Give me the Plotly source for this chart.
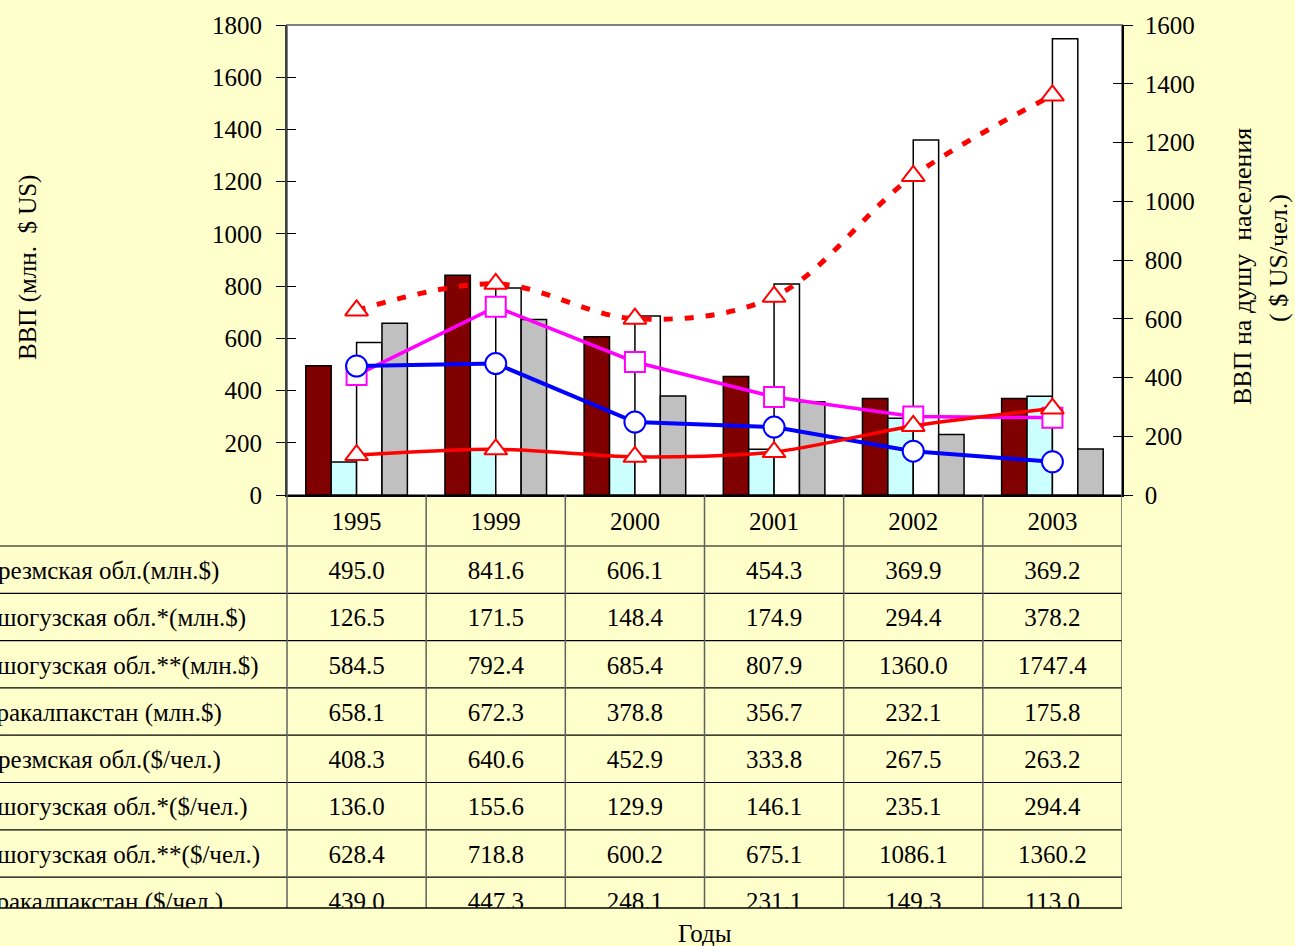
import plotly.graph_objects as go

# ---------------- data ----------------
years = ['1995', '1999', '2000', '2001', '2002', '2003']

khorezm_mln = [495.0, 841.6, 606.1, 454.3, 369.9, 369.2]
dash1_mln = [126.5, 171.5, 148.4, 174.9, 294.4, 378.2]
dash2_mln = [584.5, 792.4, 685.4, 807.9, 1360.0, 1747.4]
karakalp_mln = [658.1, 672.3, 378.8, 356.7, 232.1, 175.8]

khorezm_pc = [408.3, 640.6, 452.9, 333.8, 267.5, 263.2]
dash1_pc = [136.0, 155.6, 129.9, 146.1, 235.1, 294.4]
dash2_pc = [628.4, 718.8, 600.2, 675.1, 1086.1, 1360.2]
karakalp_pc = [439.0, 447.3, 248.1, 231.1, 149.3, 113.0]

row_labels = [
    'Хорезмская обл.(млн.$)',
    'Дашогузская обл.*(млн.$)',
    'Дашогузская обл.**(млн.$)',
    'Каракалпакстан (млн.$)',
    'Хорезмская обл.($/чел.)',
    'Дашогузская обл.*($/чел.)',
    'Дашогузская обл.**($/чел.)',
    'Каракалпакстан ($/чел.)',
]
table_rows = [khorezm_mln, dash1_mln, dash2_mln, karakalp_mln,
              khorezm_pc, dash1_pc, dash2_pc, karakalp_pc]

# ---------------- layout geometry (pixels) ----------------
W, H = 1295, 946
PL, PR, PT, PB = 287, 1122, 25, 495
TB = 908
HDR = 546
ROWH = (877.1 - 546) / 7
LABEL_X = -31
TEXT_DY = 3

FONT = 'Liberation Serif'
BG = '#FFFFCC'
FS = 25

ncol = len(years)
colw = (PR - PL) / ncol
col_centers = [PL + colw * (i + 0.5) for i in range(ncol)]
row_centers = [HDR + ROWH * (j + 0.5) + TEXT_DY for j in range(len(row_labels))]

fig = go.Figure()

bar_line = dict(color='black', width=1.5)
fig.add_trace(go.Bar(x=years, y=khorezm_mln, marker=dict(color='#800000', line=bar_line),
                     name=row_labels[0]))
fig.add_trace(go.Bar(x=years, y=dash1_mln, marker=dict(color='#CCFFFF', line=bar_line),
                     name=row_labels[1]))
fig.add_trace(go.Bar(x=years, y=dash2_mln, marker=dict(color='#FFFFFF', line=bar_line),
                     name=row_labels[2]))
fig.add_trace(go.Bar(x=years, y=karakalp_mln, marker=dict(color='#C0C0C0', line=bar_line),
                     name=row_labels[3]))

fig.add_trace(go.Scatter(x=years, y=khorezm_pc, yaxis='y2', mode='lines+markers',
                         line=dict(color='#FF00FF', width=3.5),
                         marker=dict(symbol='square', size=20, color='white',
                                     line=dict(color='#FF00FF', width=2)),
                         name=row_labels[4]))
fig.add_trace(go.Scatter(x=years, y=karakalp_pc, yaxis='y2', mode='lines+markers',
                         line=dict(color='#0000FF', width=4),
                         marker=dict(symbol='circle', size=21, color='white',
                                     line=dict(color='#0000FF', width=2)),
                         name=row_labels[7]))
fig.add_trace(go.Scatter(x=years, y=dash1_pc, yaxis='y2', mode='lines+markers',
                         line=dict(color='#FF0000', width=3.5, shape='spline', smoothing=0.8),
                         marker=dict(symbol='triangle-up', size=20, color='white',
                                     line=dict(color='#FF0000', width=2)),
                         name=row_labels[5]))
fig.add_trace(go.Scatter(x=years, y=dash2_pc, yaxis='y2', mode='lines+markers',
                         line=dict(color='#FF0000', width=5, dash='9px,12px',
                                   shape='spline', smoothing=1),
                         marker=dict(symbol='triangle-up', size=20, color='white',
                                     line=dict(color='#FF0000', width=2)),
                         name=row_labels[6]))

# empty traces so the inner-tick overlay axes are drawn
fig.add_trace(go.Scatter(x=[], y=[], yaxis='y4', showlegend=False))
fig.add_trace(go.Scatter(x=[], y=[], yaxis='y5', showlegend=False))

# ---------------- data table ----------------
tx, ty, tt = [], [], []
for i, yr in enumerate(years):
    tx.append(col_centers[i]); ty.append((PB + HDR) / 2 + TEXT_DY); tt.append(yr)
for j, row in enumerate(table_rows):
    for i, v in enumerate(row):
        tx.append(col_centers[i]); ty.append(row_centers[j]); tt.append(f'{v:.1f}')
fig.add_trace(go.Scatter(x=tx, y=ty, text=tt, mode='text', xaxis='x3', yaxis='y3',
                         textposition='middle center', cliponaxis=True,
                         textfont=dict(family=FONT, size=FS, color='black'),
                         hoverinfo='skip'))
fig.add_trace(go.Scatter(x=[LABEL_X] * len(row_labels), y=row_centers, text=row_labels,
                         mode='text', xaxis='x3', yaxis='y3',
                         textposition='middle right', cliponaxis=True,
                         textfont=dict(family=FONT, size=FS, color='black'),
                         hoverinfo='skip'))

shapes = [
    dict(type='rect', xref='x domain', yref='y domain', x0=0, x1=1, y0=0, y1=1,
         fillcolor='white', line=dict(color='#808080', width=2), layer='below'),
]
for j in range(len(row_labels)):
    yy = HDR + ROWH * j
    shapes.append(dict(type='line', xref='x3', yref='y3', x0=0, x1=PR, y0=yy, y1=yy,
                       line=dict(color='black', width=1.2)))
for k in range(ncol + 1):
    xx = PL + colw * k
    shapes.append(dict(type='line', xref='x3', yref='y3', x0=xx, x1=xx, y0=PB, y1=TB,
                       line=dict(color='#606060', width=1.5)))
shapes.append(dict(type='line', xref='paper', yref='paper', x0=0, x1=PR / W,
                   y0=(H - TB) / H, y1=(H - TB) / H, line=dict(color='black', width=1.5)))

tickfont = dict(family=FONT, size=FS, color='black')
ydom = [(H - PB) / H, (H - PT) / H]

fig.update_layout(
    width=W, height=H,
    margin=dict(l=0, r=0, t=0, b=0, autoexpand=False),
    paper_bgcolor=BG, plot_bgcolor=BG,
    showlegend=False,
    barmode='group', bargap=0.27, bargroupgap=0,
    shapes=shapes,
    xaxis=dict(domain=[PL / W, PR / W], type='category', range=[-0.5, 5.5],
               showticklabels=False, ticks='', showline=True, linecolor='black',
               linewidth=1.5, showgrid=False, zeroline=False, anchor='y',
               automargin=False),
    yaxis=dict(domain=ydom, range=[0, 1800], dtick=200, ticks='outside', ticklen=9,
               tickcolor='black', tickwidth=1.2, showline=True, linecolor='#404040',
               linewidth=2, showgrid=False, zeroline=False, tickfont=tickfont,
               ticklabelstandoff=9, anchor='x', automargin=False),
    yaxis2=dict(overlaying='y', side='right', anchor='x', range=[0, 1600], dtick=200,
                ticks='outside', ticklen=9, tickcolor='black', tickwidth=1.2,
                showline=True, linecolor='black', linewidth=1.5, showgrid=False,
                zeroline=False, tickfont=tickfont, ticklabelstandoff=7,
                automargin=False),
    yaxis4=dict(overlaying='y', side='left', anchor='x', range=[0, 1800], dtick=200,
                ticks='inside', ticklen=9, tickcolor='black', tickwidth=1.2,
                showticklabels=False, showline=False, showgrid=False, zeroline=False,
                automargin=False),
    yaxis5=dict(overlaying='y', side='right', anchor='x', range=[0, 1600], dtick=200,
                ticks='inside', ticklen=9, tickcolor='black', tickwidth=1.2,
                showticklabels=False, showline=False, showgrid=False, zeroline=False,
                automargin=False),
    xaxis3=dict(domain=[0, PR / W], range=[0, PR], visible=False, anchor='y3',
                automargin=False),
    yaxis3=dict(domain=[(H - TB) / H, (H - PB) / H], range=[TB, PB], visible=False,
                anchor='x3', automargin=False),
    annotations=[
        dict(text='ВВП (млн.\u00a0 $ US)', xref='paper', yref='paper',
             x=28 / W, y=(H - 268) / H, textangle=-90, showarrow=False,
             font=dict(family=FONT, size=25, color='black'),
             xanchor='center', yanchor='middle'),
        dict(text='ВВП на душу\u00a0 населения', xref='paper', yref='paper',
             x=1242 / W, y=(H - 267) / H, textangle=-90, showarrow=False,
             font=dict(family=FONT, size=26, color='black'),
             xanchor='center', yanchor='middle'),
        dict(text='( $ US/чел.)', xref='paper', yref='paper',
             x=1278 / W, y=(H - 258) / H, textangle=-90, showarrow=False,
             font=dict(family=FONT, size=26, color='black'),
             xanchor='center', yanchor='middle'),
        dict(text='Годы', xref='paper', yref='paper',
             x=(PL + PR) / 2 / W, y=(H - 933) / H, showarrow=False,
             font=dict(family=FONT, size=25, color='black'),
             xanchor='center', yanchor='middle'),
    ],
)

fig.write_html('out.html', config={'displayModeBar': False},
               post_script="document.body.style.margin='0';")
